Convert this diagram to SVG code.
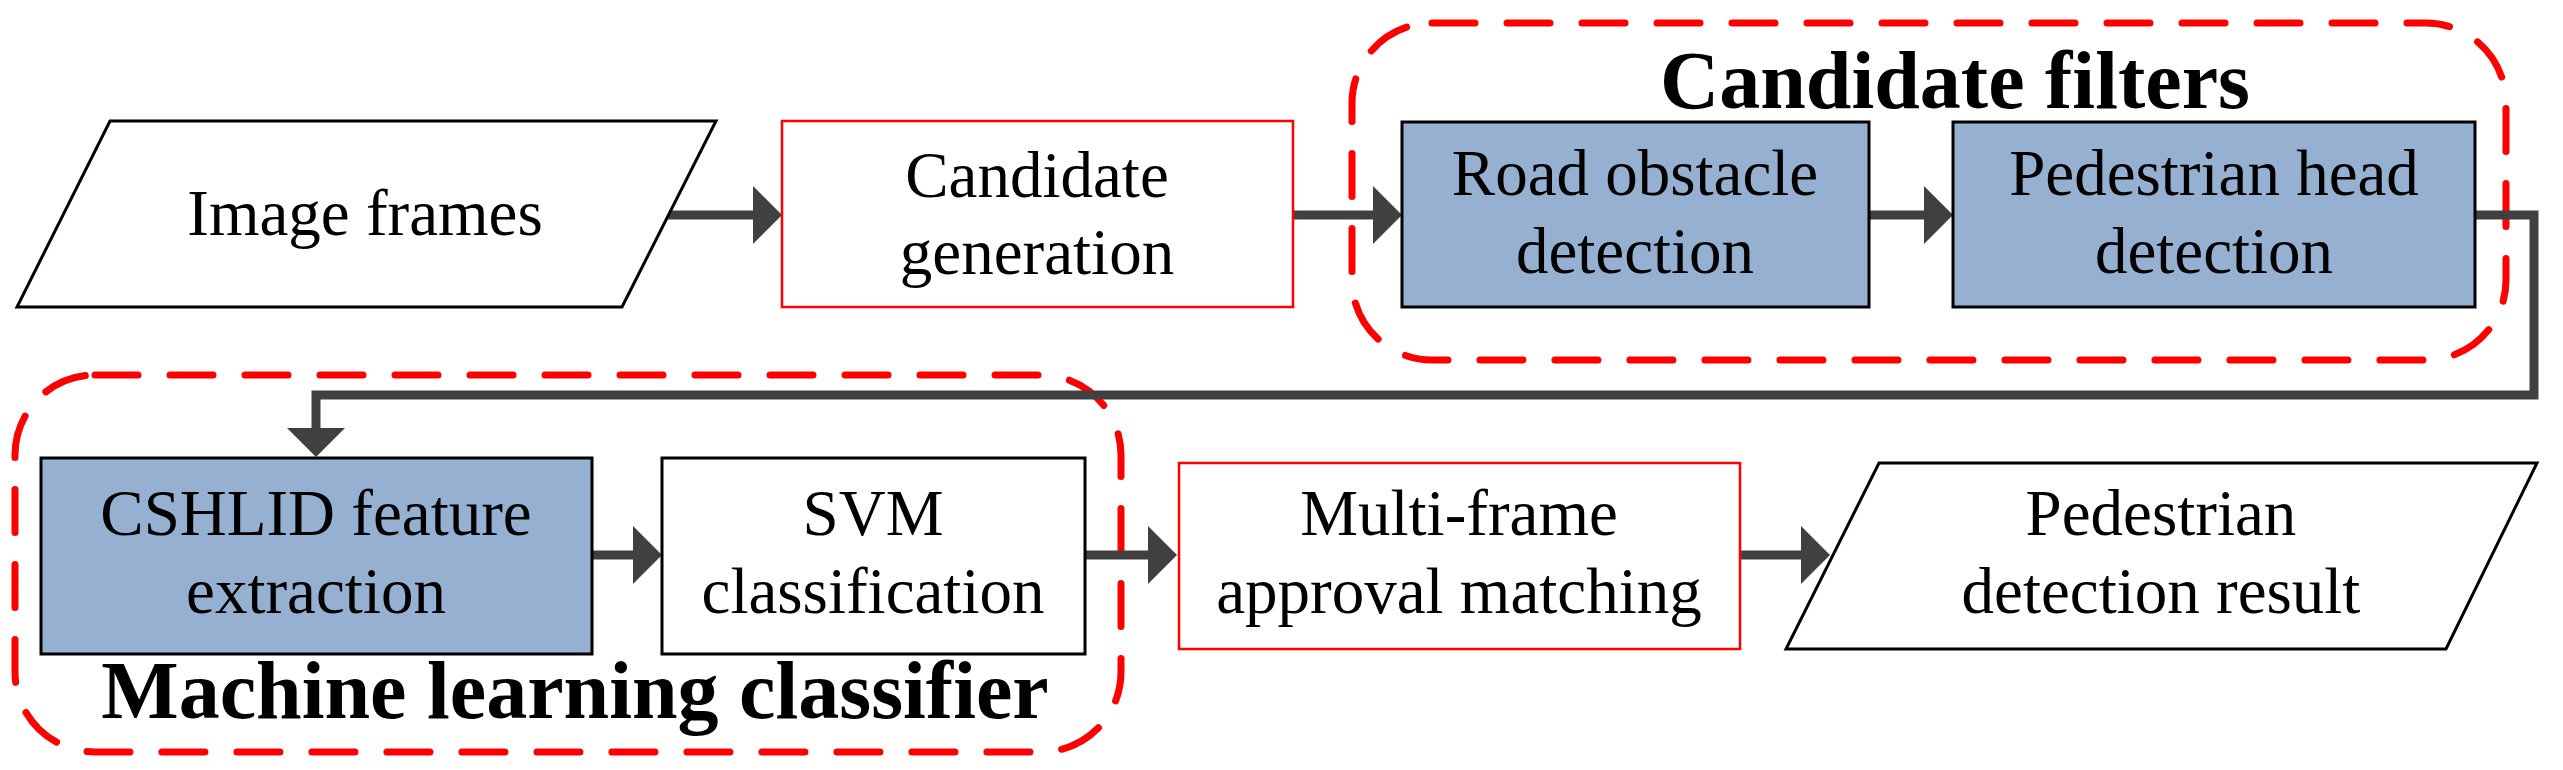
<svg xmlns="http://www.w3.org/2000/svg" width="2563" height="770" viewBox="0 0 2563 770">
<style>
.t{font-family:"Liberation Serif","Times New Roman",serif;font-size:65px;fill:#000;text-anchor:middle}
.b{font-family:"Liberation Serif","Times New Roman",serif;font-size:82px;font-weight:bold;fill:#000;text-anchor:middle}
.blue{fill:#95B0D0;stroke:#000;stroke-width:3}
.wbox{fill:#fff;stroke:#000;stroke-width:3}
.rbox{fill:#fff;stroke:#FF0000;stroke-width:2.5}
.para{fill:#fff;stroke:#000;stroke-width:3;stroke-linejoin:miter}
.grp{fill:none;stroke:#FF0000;stroke-width:7;stroke-dasharray:43 32;stroke-linecap:round}
.con{fill:none;stroke:#404040;stroke-width:9;stroke-linejoin:miter;stroke-linecap:round}
</style>
<defs>
<marker id="ah" markerUnits="userSpaceOnUse" markerWidth="30" markerHeight="60" refX="0" refY="29" orient="auto" viewBox="0 0 30 58">
<path d="M0,0 L29,29 L0,58 Z" fill="#404040"/>
</marker>
</defs>
<g id="groups">
<rect id="candidate-filters-group" class="grp" x="1352" y="23" width="1154" height="337" rx="80" ry="80"/>
<rect id="ml-classifier-group" class="grp" x="15" y="375" width="1106" height="377" rx="80" ry="80"/>
</g>
<g id="connectors">
<path class="con" d="M666,215 L753,215" marker-end="url(#ah)"/>
<path class="con" d="M1295,215 L1373,215" marker-end="url(#ah)"/>
<path class="con" d="M1870,215 L1924,215" marker-end="url(#ah)"/>
<path class="con" d="M2476,215 L2534,215 L2534,395 L316,395 L316,428" marker-end="url(#ah)"/>
<path class="con" d="M594,555 L633,555" marker-end="url(#ah)"/>
<path class="con" d="M1087,555 L1148,555" marker-end="url(#ah)"/>
<path class="con" d="M1742,555 L1801,555" marker-end="url(#ah)"/>
</g>
<g id="image-frames">
<polygon class="para" points="110,121 716,121 622,307 17,307"/>
<text class="t" x="365" y="235">Image frames</text>
</g>
<g id="candidate-generation">
<rect class="rbox" x="782" y="121" width="511" height="186"/>
<text class="t" x="1037" y="197">Candidate</text>
<text class="t" x="1037" y="274">generation</text>
</g>
<g id="road-obstacle">
<rect class="blue" x="1402" y="122" width="467" height="185"/>
<text class="t" x="1635" y="195">Road obstacle</text>
<text class="t" x="1635" y="273">detection</text>
</g>
<g id="pedestrian-head">
<rect class="blue" x="1953" y="122" width="522" height="185"/>
<text class="t" x="2214" y="195">Pedestrian head</text>
<text class="t" x="2214" y="273">detection</text>
</g>
<g id="candidate-filters-label">
<text class="b" x="1955" y="108">Candidate filters</text>
</g>
<g id="cshlid">
<rect class="blue" x="41" y="458" width="551" height="196"/>
<text class="t" x="316" y="535">CSHLID feature</text>
<text class="t" x="316" y="613">extraction</text>
</g>
<g id="svm">
<rect class="wbox" x="662" y="458" width="423" height="196"/>
<text class="t" x="873" y="535">SVM</text>
<text class="t" x="873" y="613">classification</text>
</g>
<g id="ml-label">
<text class="b" x="575" y="718">Machine learning classifier</text>
</g>
<g id="multi-frame">
<rect class="rbox" x="1179" y="463" width="561" height="186"/>
<text class="t" x="1459" y="535">Multi-frame</text>
<text class="t" x="1459" y="613">approval matching</text>
</g>
<g id="pedestrian-result">
<polygon class="para" points="1879,463 2537,463 2446,649 1786,649"/>
<text class="t" x="2161" y="535">Pedestrian</text>
<text class="t" x="2161" y="613">detection result</text>
</g>
</svg>
